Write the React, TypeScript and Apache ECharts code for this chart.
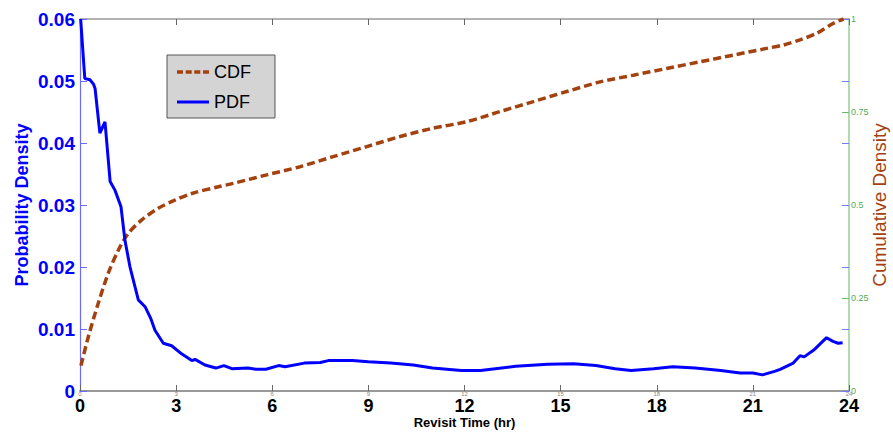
import React, { useEffect, useRef } from "react";
import * as echarts from "echarts";

const FONT = "'Liberation Sans', Arial, sans-serif";

const xTicks = [0, 3, 6, 9, 12, 15, 18, 21, 24];

const pdfHours = [
  0.02, 0.15, 0.31, 0.42, 0.47, 0.62, 0.7, 0.78, 0.94, 1.09, 1.28, 1.4, 1.56, 1.82, 2.03, 2.2, 2.34, 2.6,
  2.86, 3.17, 3.49, 3.59, 3.9, 4.24, 4.49, 4.74, 5.24, 5.49, 5.8, 6.2, 6.4, 7.0, 7.5, 7.75, 8.5, 9.0, 9.7,
  10.4, 11.0, 11.9, 12.5, 13.6, 14.6, 15.4, 16.1, 16.7, 17.2, 17.9, 18.5, 19.2, 20.0, 20.6, 21.0, 21.3,
  21.7, 21.85, 22.26, 22.47, 22.6, 22.9, 23.3, 23.5, 23.66, 23.8,
];
const pdfValues = [
  0.06, 0.0504, 0.0502, 0.0495, 0.0488, 0.0416, 0.0425, 0.0434, 0.0338, 0.0324, 0.0297, 0.0244, 0.02,
  0.0147, 0.0136, 0.0118, 0.0098, 0.0077, 0.0073, 0.006, 0.0049, 0.0051, 0.0042, 0.0037, 0.0041, 0.0036,
  0.0037, 0.0035, 0.0035, 0.0041, 0.0039, 0.0045, 0.0046, 0.0049, 0.0049, 0.0047, 0.0045, 0.0042, 0.0037,
  0.0033, 0.0033, 0.004, 0.0043, 0.0044, 0.0041, 0.0036, 0.0033, 0.0036, 0.0039, 0.0037, 0.0033, 0.0029,
  0.0029, 0.0026, 0.0032, 0.0035, 0.0045, 0.0057, 0.0055, 0.0066, 0.0086, 0.008, 0.0077, 0.0078,
];

const cdfHours = [
  0.03, 0.26, 0.57, 0.88, 1.2, 1.51, 1.93, 2.44, 2.96, 3.49, 4.32, 4.78, 5.83, 6.87, 7.9, 8.95, 9.99, 11.0,
  12.07, 13.1, 14.15, 15.19, 16.23, 17.27, 18.31, 19.35, 20.39, 21.43, 21.95, 22.47, 23.0, 23.5, 23.83,
];
const cdfValues = [
  0.068, 0.146, 0.236, 0.316, 0.379, 0.424, 0.46, 0.491, 0.513, 0.531, 0.549, 0.558, 0.581, 0.603, 0.63,
  0.657, 0.684, 0.706, 0.724, 0.751, 0.778, 0.805, 0.831, 0.849, 0.867, 0.885, 0.903, 0.921, 0.93, 0.944,
  0.962, 0.988, 1.0,
];

const BLUE = "#0000ff";
const BROWN = "#a3410f";

// legend icons: dashed and solid strokes (with invisible specks so the box spans full height)
const SPECKS = "M0,0h0.01v0.01h-0.01z M0,13.99h0.01v0.01h-0.01z";
const DASH_ICON =
  "path://" + SPECKS + " M0,5.25h6v3.5h-6z M8.7,5.25h6v3.5h-6z M17.3,5.25h6v3.5h-6z M26,5.25h6v3.5h-6z";
const SOLID_ICON = "path://" + SPECKS + " M0,5.5h32v3h-32z";

export default function App() {
  const ref = useRef<HTMLDivElement>(null);
  useEffect(() => {
    if (!ref.current) return;
    const chart = echarts.init(ref.current, null, { renderer: "svg" });
    const pdfData = pdfHours.map((h, i) => [h, pdfValues[i]]);
    const cdfData = cdfHours.map((h, i) => [h, cdfValues[i]]);
    chart.setOption({
      animation: false,
      backgroundColor: "#ffffff",
      textStyle: { fontFamily: FONT },
      grid: { left: 80, right: 44, top: 19, bottom: 41, containLabel: false, outerBoundsMode: "none" },
      legend: {
        data: [
          { name: "CDF", icon: DASH_ICON },
          { name: "PDF", icon: SOLID_ICON },
        ],
        orient: "vertical",
        left: 167,
        top: 55,
        backgroundColor: "#d4d4d4",
        borderColor: "#555555",
        borderWidth: 1,
        borderRadius: 0,
        padding: [8, 24, 7, 10],
        itemWidth: 32,
        itemHeight: 14,
        itemGap: 12,
        symbolKeepAspect: false,
        textStyle: { fontSize: 18, color: "#000000", fontFamily: FONT },
      },
      xAxis: [
        {
          type: "value",
          min: xTicks[0],
          max: xTicks[xTicks.length - 1],
          interval: 3,
          position: "bottom",
          axisLine: { show: true, onZero: false, lineStyle: { color: "#999999", width: 2 } },
          axisTick: { show: true, inside: true, length: 6, lineStyle: { color: "#666666" } },
          axisLabel: { margin: 6, color: "#000000", fontSize: 18, fontWeight: "bold", fontFamily: FONT },
          splitLine: { show: false },
          name: "Revisit Time (hr)",
          nameLocation: "middle",
          nameGap: 25,
          nameMoveOverlap: false,
          nameTextStyle: { fontSize: 13, fontWeight: "bold", color: "#000000", fontFamily: FONT },
        },
        {
          type: "value",
          min: 0,
          max: 24,
          interval: 3,
          position: "bottom",
          axisLine: { show: false, onZero: false },
          axisTick: { show: false },
          axisLabel: { margin: 0, color: "#888888", fontSize: 6, fontFamily: FONT },
          splitLine: { show: false },
        },
        {
          type: "value",
          min: 0,
          max: 24,
          interval: 3,
          position: "top",
          axisLine: { show: true, onZero: false, lineStyle: { color: "#999999", width: 1.5 } },
          axisTick: { show: true, inside: true, length: 6, lineStyle: { color: "#666666" } },
          axisLabel: { show: false },
          splitLine: { show: false },
        },
      ],
      yAxis: [
        {
          type: "value",
          min: 0,
          max: 0.06,
          interval: 0.01,
          position: "left",
          axisLine: { show: true, onZero: false, lineStyle: { color: "#6a6aff", width: 1.2 } },
          axisTick: { show: true, inside: true, length: 7, lineStyle: { color: "#6a6aff" } },
          axisLabel: {
            margin: 5,
            color: BLUE,
            fontSize: 19,
            fontWeight: "bold",
            fontFamily: FONT,
            formatter: (v: number) => (v === 0 ? "0" : v.toFixed(2)),
          },
          splitLine: { show: false },
          name: "Probability Density",
          nameLocation: "middle",
          nameGap: 49,
          nameRotate: 90,
          nameMoveOverlap: false,
          nameTextStyle: { color: BLUE, fontSize: 18, fontWeight: "bold", fontFamily: FONT },
        },
        {
          type: "value",
          min: 0,
          max: 1,
          interval: 0.25,
          position: "right",
          axisLine: { show: false, onZero: false },
          axisTick: { show: true, inside: true, length: 7, lineStyle: { color: "#66bb66" } },
          axisLabel: { margin: 2, color: "#55aa55", fontSize: 9, fontFamily: FONT },
          splitLine: { show: false },
          name: "Cumulative Density",
          nameLocation: "middle",
          nameGap: 21,
          nameRotate: 90,
          nameMoveOverlap: false,
          nameTextStyle: { color: BROWN, fontSize: 19, fontFamily: FONT },
        },
        {
          type: "value",
          min: 0,
          max: 0.06,
          interval: 0.01,
          position: "right",
          axisLine: { show: true, onZero: false, lineStyle: { color: "#99cc99", width: 1.5 } },
          axisTick: { show: true, inside: true, length: 7, lineStyle: { color: "#7777ff" } },
          axisLabel: { show: false },
          splitLine: { show: false },
        },
      ],
      series: [
        {
          type: "line",
          name: "CDF",
          xAxisIndex: 0,
          yAxisIndex: 1,
          data: cdfData,
          symbol: "none",
          showSymbol: false,
          smooth: 0.3,
          lineStyle: { color: BROWN, width: 3.5, type: [8, 4] },
          itemStyle: { color: BROWN },
          z: 3,
        },
        {
          type: "line",
          name: "PDF",
          xAxisIndex: 0,
          yAxisIndex: 0,
          data: pdfData,
          symbol: "none",
          showSymbol: false,
          lineStyle: { color: BLUE, width: 3 },
          itemStyle: { color: BLUE },
          z: 4,
        },
      ],
    });
    return () => chart.dispose();
  }, []);
  return (
    <div
      ref={ref}
      style={{ position: "absolute", left: 0, top: 0, width: 893, height: 432, background: "#fff" }}
    />
  );
}
